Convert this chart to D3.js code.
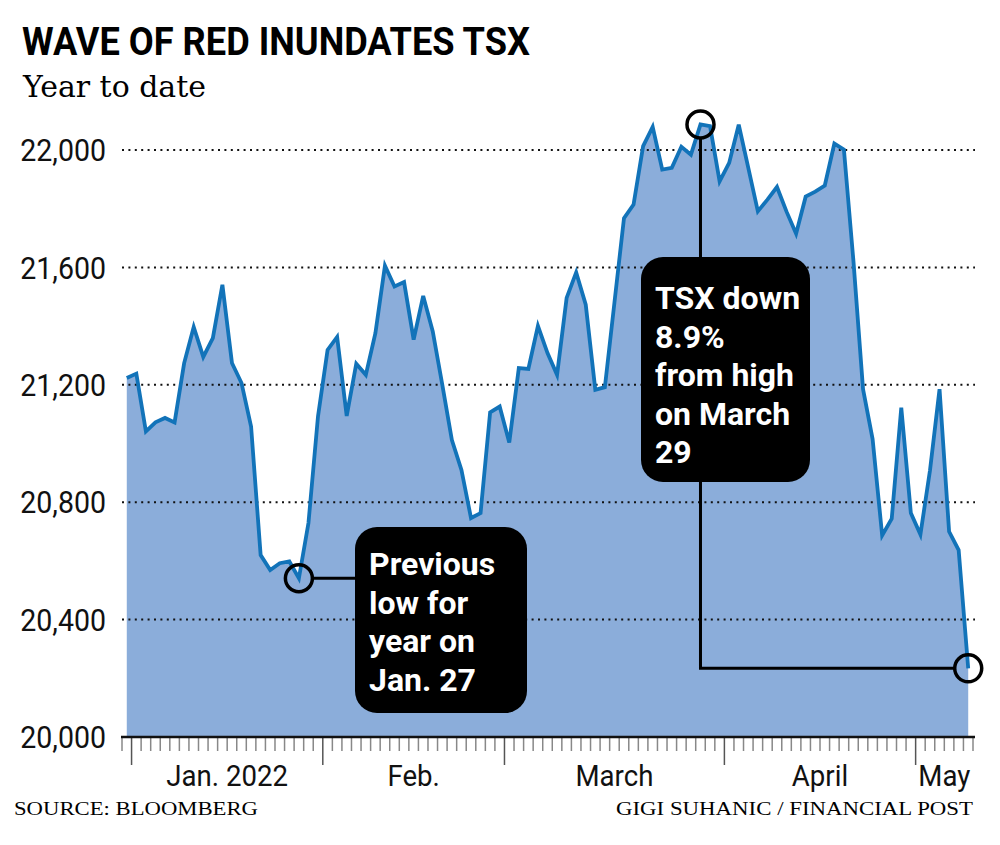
<!DOCTYPE html>
<html><head><meta charset="utf-8">
<script src="https://cdn.jsdelivr.net/npm/d3@7"></script>
<style>body{margin:0;background:#fff}svg{display:block}</style>
</head><body>
<script>
// ---- DATA ----
const dates = [
"2021-12-31",
"2022-01-04","2022-01-05","2022-01-06","2022-01-07","2022-01-10","2022-01-11","2022-01-12","2022-01-13","2022-01-14",
"2022-01-17","2022-01-18","2022-01-19","2022-01-20","2022-01-21","2022-01-24","2022-01-25","2022-01-26","2022-01-27","2022-01-28","2022-01-31",
"2022-02-01","2022-02-02","2022-02-03","2022-02-04","2022-02-07","2022-02-08","2022-02-09","2022-02-10","2022-02-11",
"2022-02-14","2022-02-15","2022-02-16","2022-02-17","2022-02-18","2022-02-22","2022-02-23","2022-02-24","2022-02-25","2022-02-28",
"2022-03-01","2022-03-02","2022-03-03","2022-03-04","2022-03-07","2022-03-08","2022-03-09","2022-03-10","2022-03-11",
"2022-03-14","2022-03-15","2022-03-16","2022-03-17","2022-03-18","2022-03-21","2022-03-22","2022-03-23","2022-03-24","2022-03-25",
"2022-03-28","2022-03-29","2022-03-30","2022-03-31",
"2022-04-01","2022-04-04","2022-04-05","2022-04-06","2022-04-07","2022-04-08","2022-04-11","2022-04-12","2022-04-13","2022-04-14",
"2022-04-18","2022-04-19","2022-04-20","2022-04-21","2022-04-22","2022-04-25","2022-04-26","2022-04-27","2022-04-28","2022-04-29",
"2022-05-02","2022-05-03","2022-05-04","2022-05-05","2022-05-06","2022-05-09"
];
const values = [
21223,
21238,21041,21072,21087,21072,21274,21397,21295,21359,
21541,21274,21206,21058,20620,20569,20592,20598,20541,20729,21093,
21319,21363,21094,21272,21234,21376,21606,21535,21550,
21354,21503,21382,21200,21012,20910,20746,20763,21106,21126,
21003,21257,21254,21401,21308,21234,21496,21583,21473,
21183,21192,21480,21768,21814,22013,22079,21933,21939,22011,
21984,22087,22081,21893,
21956,22086,21939,21791,21831,21874,21790,21715,21841,21858,
21879,22022,22001,21620,21185,21015,20687,20744,21122,20763,
20690,20908,21185,20700,20637,20234
];
const yTicks = [20000,20400,20800,21200,21600,22000];
const monthKeys = ["2022-01","2022-02","2022-03","2022-04","2022-05"];
const monthLabels = ["Jan. 2022","Feb.","March","April","May"];
const lowDate = "2022-01-27";
const highDate = "2022-03-29";
const lastDate = "2022-05-09";
const lowText = ["Previous","low for","year on","Jan. 27"];
const highText = ["TSX down","8.9%","from high","on March","29"];

// ---- CHART ----
const W = 1000, H = 845;
const svg = d3.select("body").append("svg").attr("width", W).attr("height", H);
const data = dates.map((d,i)=>({date:d, value:values[i]}));

const x = d3.scaleBand().domain(dates).range([122, 973]).padding(0);
const y = d3.scaleLinear().domain([20000, 22000]).range([737, 150]);
const cx = d => x(d) + x.bandwidth()/2;

function condense(sel, f){
  sel.each(function(){
    const L = this.getComputedTextLength();
    d3.select(this).attr("textLength", L*f).attr("lengthAdjust","spacingAndGlyphs");
  });
}

// title
svg.append("text").attr("x",22).attr("y",55)
  .attr("font-family","Roboto").attr("font-weight",700).attr("font-size",39)
  .attr("textLength",508).attr("lengthAdjust","spacingAndGlyphs")
  .text("WAVE OF RED INUNDATES TSX");
svg.append("text").attr("x",23).attr("y",97)
  .attr("font-family","DejaVu Serif").attr("font-size",29)
  .attr("textLength",183).attr("lengthAdjust","spacingAndGlyphs")
  .text("Year to date");

// area
const area = d3.area().x(d=>cx(d.date)).y0(y(20000)).y1(d=>y(d.value));
svg.append("path").datum(data).attr("d",area).attr("fill","#8badda");

// gridlines
svg.append("g").selectAll("line").data(yTicks.filter(t=>t>20000)).join("line")
  .attr("x1",122).attr("x2",975).attr("y1",d=>y(d)).attr("y2",d=>y(d))
  .attr("stroke","#111").attr("stroke-width",2).attr("stroke-dasharray","2,4.4");

// line
const line = d3.line().x(d=>cx(d.date)).y(d=>y(d.value));
svg.append("path").datum(data).attr("d",line).attr("fill","none")
  .attr("stroke","#1273b9").attr("stroke-width",3.8).attr("stroke-linejoin","miter");

// y labels
svg.append("g").selectAll("text").data(yTicks).join("text")
  .attr("x",106).attr("y",d=>y(d)).attr("dy","0.36em").attr("text-anchor","end")
  .attr("font-family","Roboto").attr("font-size",31).attr("fill","#111")
  .text(d=>d3.format(",")(d))
  .call(condense, 0.92);

// x axis ticks
const firstOfMonth = new Set(monthKeys.map(m=>dates.find(d=>d.startsWith(m))));
const tickPos = dates.map(d=>({x:x(d), major:firstOfMonth.has(d)}));
tickPos.push({x:x(dates[dates.length-1])+x.bandwidth(), major:false});
svg.append("g").selectAll("line").data(tickPos).join("line")
  .attr("x1",d=>d.x).attr("x2",d=>d.x).attr("y1",737).attr("y2",d=>d.major?765:751)
  .attr("stroke",d=>d.major?"#555":"#888").attr("stroke-width",1.5);
svg.append("line").attr("x1",121).attr("x2",975).attr("y1",737).attr("y2",737)
  .attr("stroke","#111").attr("stroke-width",2.5);

// month labels
monthKeys.forEach((m,i)=>{
  const ds = dates.filter(d=>d.startsWith(m));
  const x0 = x(ds[0]), x1 = x(ds[ds.length-1]) + x.bandwidth();
  svg.append("text").attr("x",(x0+x1)/2).attr("y",786).attr("text-anchor","middle")
    .attr("font-family","Roboto").attr("font-size",30).attr("fill","#111")
    .text(monthLabels[i]).call(condense, 0.92);
});

// footer
svg.append("text").attr("x",14).attr("y",815)
  .attr("font-family","Liberation Serif").attr("font-size",19)
  .attr("textLength",244).attr("lengthAdjust","spacingAndGlyphs").text("SOURCE: BLOOMBERG");
svg.append("text").attr("x",616).attr("y",815)
  .attr("font-family","Liberation Serif").attr("font-size",19)
  .attr("textLength",357).attr("lengthAdjust","spacingAndGlyphs")
  .text("GIGI SUHANIC / FINANCIAL POST");

// annotations
const valOf = d => values[dates.indexOf(d)];
const r = 13.5;
const ann = svg.append("g");
const lx = cx(lowDate), ly = y(valOf(lowDate));
ann.append("line").attr("x1",lx+r).attr("x2",360).attr("y1",ly).attr("y2",ly)
  .attr("stroke","#000").attr("stroke-width",3);
const hx = cx(highDate), hy = y(valOf(highDate));
const ex = cx(lastDate), ey = y(valOf(lastDate));
ann.append("path").attr("d",`M${hx},${hy+r}V${ey}H${ex-r}`)
  .attr("fill","none").attr("stroke","#000").attr("stroke-width",3);
[[lx,ly],[hx,hy],[ex,ey]].forEach(([a,b])=>{
  ann.append("circle").attr("cx",a).attr("cy",b).attr("r",r)
    .attr("fill","none").attr("stroke","#000").attr("stroke-width",3.5);
});
function box(x0,y0,w,h,lines,tx,ty0,lh){
  ann.append("rect").attr("x",x0).attr("y",y0).attr("width",w).attr("height",h)
    .attr("rx",22).attr("fill","#000");
  const t = ann.append("text").attr("font-family","Roboto").attr("font-weight",700)
    .attr("font-size",32).attr("fill","#fff");
  lines.forEach((s,i)=>t.append("tspan").attr("x",tx).attr("y",ty0+i*lh).text(s));
}
box(355,527,172,186,lowText,369,575,38.5);
box(641,257,169,225,highText,655,309,38.6);
</script>
</body></html>
